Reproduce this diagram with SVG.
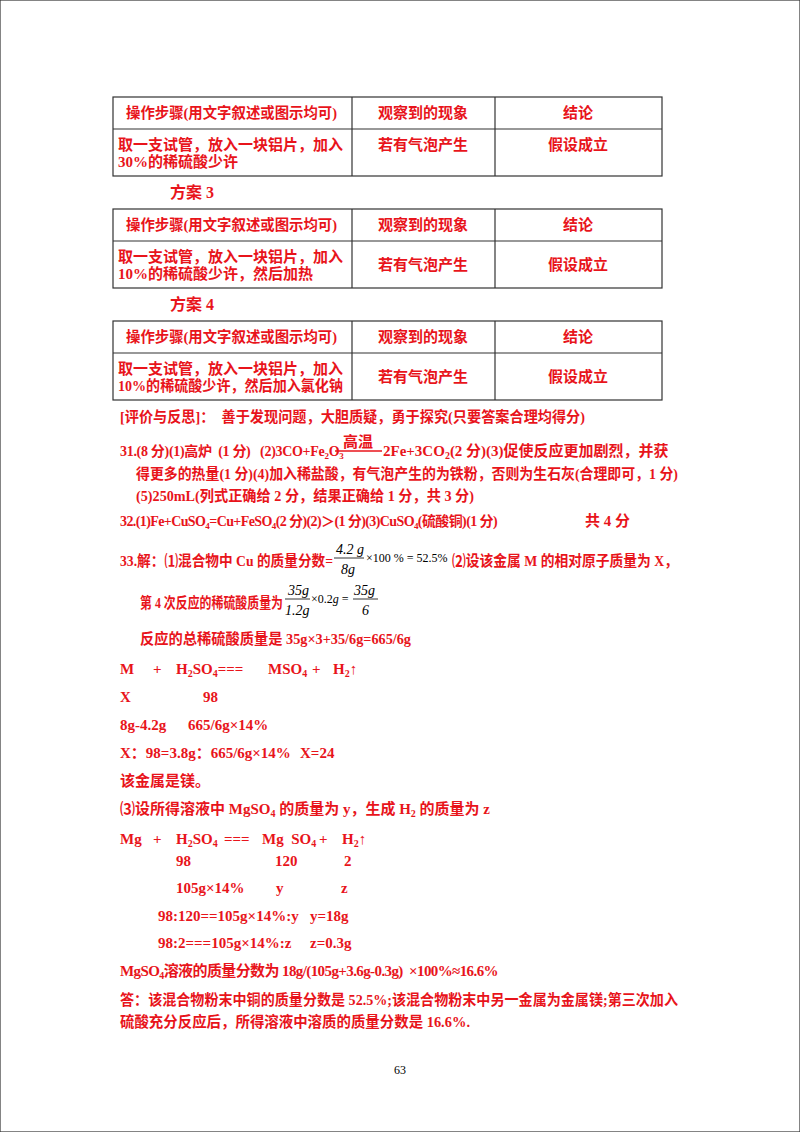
<svg xmlns="http://www.w3.org/2000/svg" width="800" height="1132" viewBox="0 0 800 1132" xml:space="preserve">
<style>
text{font-family:"Liberation Serif","Noto Sans CJK SC",serif;font-size:15px;font-weight:bold;fill:#e8141b;white-space:pre}
.c{text-anchor:middle}
.k{fill:#000;font-weight:normal}
.m{fill:#000;font-weight:normal;font-style:italic;font-family:"Liberation Serif",serif;font-size:14px}
.n{fill:#000;font-weight:normal;font-family:"Liberation Serif",serif;font-size:12px}
line,rect{stroke:#333;stroke-width:1.2;fill:none}
</style>
<rect width="800" height="1132" fill="#fff" stroke="none"/>
<g id="table1">
<rect x="113" y="97" width="549" height="79"/>
<line x1="113" y1="129" x2="662" y2="129"/><line x1="352" y1="97" x2="352" y2="176"/><line x1="495" y1="97" x2="495" y2="176"/>
<text x="126" y="118" textLength="211" lengthAdjust="spacingAndGlyphs">操作步骤(用文字叙述或图示均可)</text><text x="423" y="118" class="c">观察到的现象</text><text x="578" y="118" class="c">结论</text>
<text x="118" y="150" textLength="225" lengthAdjust="spacingAndGlyphs">取一支试管，放入一块铝片，加入</text><text x="118" y="167">30%的稀硫酸少许</text>
<text x="423" y="150" class="c">若有气泡产生</text><text x="578" y="150" class="c">假设成立</text>
</g>
<text x="170" y="198" style="font-size:16px">方案 3</text>
<g id="table2">
<rect x="113" y="209" width="549" height="79"/>
<line x1="113" y1="241" x2="662" y2="241"/><line x1="352" y1="209" x2="352" y2="288"/><line x1="495" y1="209" x2="495" y2="288"/>
<text x="126" y="230" textLength="211" lengthAdjust="spacingAndGlyphs">操作步骤(用文字叙述或图示均可)</text><text x="423" y="230" class="c">观察到的现象</text><text x="578" y="230" class="c">结论</text>
<text x="118" y="262" textLength="225" lengthAdjust="spacingAndGlyphs">取一支试管，放入一块铝片，加入</text><text x="118" y="279">10%的稀硫酸少许，然后加热</text>
<text x="423" y="270" class="c">若有气泡产生</text><text x="578" y="270" class="c">假设成立</text>
</g>
<text x="170" y="310" style="font-size:16px">方案 4</text>
<g id="table3">
<rect x="113" y="321" width="549" height="79"/>
<line x1="113" y1="353" x2="662" y2="353"/><line x1="352" y1="321" x2="352" y2="400"/><line x1="495" y1="321" x2="495" y2="400"/>
<text x="126" y="342" textLength="211" lengthAdjust="spacingAndGlyphs">操作步骤(用文字叙述或图示均可)</text><text x="423" y="342" class="c">观察到的现象</text><text x="578" y="342" class="c">结论</text>
<text x="118" y="374" textLength="225" lengthAdjust="spacingAndGlyphs">取一支试管，放入一块铝片，加入</text><text x="118" y="391" textLength="225" lengthAdjust="spacingAndGlyphs">10%的稀硫酸少许，然后加入氯化钠</text>
<text x="423" y="382" class="c">若有气泡产生</text><text x="578" y="382" class="c">假设成立</text>
</g>
<text x="120" y="422" textLength="465" lengthAdjust="spacingAndGlyphs">[评价与反思]：  善于发现问题，大胆质疑，勇于探究(只要答案合理均得分)</text>
<text x="120" y="456" style="font-size:14px;letter-spacing:-0.3px">31.(8 分)(1)高炉  (1 分)   (2)3CO+Fe<tspan font-size="9" dy="3">2</tspan><tspan dy="-3">O</tspan><tspan font-size="9" dy="3">3</tspan></text>
<line x1="335" y1="451" x2="382" y2="451" style="stroke:#e8141b;stroke-width:1.5"/>
<text x="358" y="447" class="c">高温</text>
<text x="383" y="456">2Fe+3CO<tspan font-size="10" dy="3">2</tspan><tspan dy="-3">(2 分)(3)促使反应更加剧烈，并获</tspan></text>
<text x="136" y="479" textLength="542" lengthAdjust="spacingAndGlyphs">得更多的热量(1 分)(4)加入稀盐酸，有气泡产生的为铁粉，否则为生石灰(合理即可，1 分)</text>
<text x="136" y="501" textLength="338" lengthAdjust="spacingAndGlyphs">(5)250mL(列式正确给 2 分，结果正确给 1 分，共 3 分)</text>
<text x="120" y="526" style="font-size:14px;letter-spacing:-0.6px">32.(1)Fe+CuSO<tspan font-size="9" dy="3">4</tspan><tspan dy="-3">=Cu+FeSO</tspan><tspan font-size="9" dy="3">4</tspan><tspan dy="-3">(2 分)(2)＞(1 分)(3)CuSO</tspan><tspan font-size="9" dy="3">4</tspan><tspan dy="-3">(硫酸铜)(1 分)</tspan></text>
<text x="585" y="526">共 4 分</text>
<text x="120" y="566" textLength="213" lengthAdjust="spacingAndGlyphs">33.解：⑴混合物中 Cu 的质量分数=</text>
<text x="336" y="554" class="m">4.2 g</text>
<line x1="334" y1="558" x2="364" y2="558" style="stroke:#000;stroke-width:0.8"/>
<text x="341" y="574" class="m">8g</text>
<text x="366" y="562" class="n">×100 % = 52.5%</text>
<text x="452" y="566" textLength="226" lengthAdjust="spacingAndGlyphs">⑵设该金属 M 的相对原子质量为 X，</text>
<text x="140" y="608" textLength="143" lengthAdjust="spacingAndGlyphs">第 4 次反应的稀硫酸质量为</text>
<text x="288" y="595" class="m">35g</text>
<line x1="285" y1="599" x2="310" y2="599" style="stroke:#000;stroke-width:0.8"/>
<text x="285" y="615" class="m">1.2g</text>
<text x="311" y="603" class="n">×0.2<tspan font-style="italic">g</tspan> =</text>
<text x="354" y="595" class="m">35g</text>
<line x1="353" y1="599" x2="378" y2="599" style="stroke:#000;stroke-width:0.8"/>
<text x="362" y="615" class="m">6</text>
<text x="140" y="644" textLength="271" lengthAdjust="spacingAndGlyphs">反应的总稀硫酸质量是 35g×3+35/6g=665/6g</text>
<text x="120" y="674">M</text><text x="153" y="674">+</text><text x="176" y="674">H<tspan font-size="10" dy="3">2</tspan><tspan dy="-3">SO</tspan><tspan font-size="10" dy="3">4</tspan><tspan dy="-3">===</tspan></text><text x="268" y="674">MSO<tspan font-size="10" dy="3">4</tspan></text><text x="312" y="674">+</text><text x="333" y="674">H<tspan font-size="10" dy="3">2</tspan><tspan dy="-3">↑</tspan></text>
<text x="120" y="702">X</text><text x="203" y="702">98</text>
<text x="120" y="730">8g-4.2g</text><text x="188" y="730">665/6g×14%</text>
<text x="120" y="758">X：98=3.8g：665/6g×14%</text><text x="300" y="758">X=24</text>
<text x="120" y="786">该金属是镁。</text>
<text x="120" y="814">⑶设所得溶液中 MgSO<tspan font-size="10" dy="3">4</tspan><tspan dy="-3"> 的质量为 y，生成 H</tspan><tspan font-size="10" dy="3">2</tspan><tspan dy="-3"> 的质量为 z</tspan></text>
<text x="120" y="844">Mg</text><text x="153" y="844">+</text><text x="176" y="844">H<tspan font-size="10" dy="3">2</tspan><tspan dy="-3">SO</tspan><tspan font-size="10" dy="3">4</tspan></text><text x="224" y="844">===</text><text x="262" y="844">Mg  SO<tspan font-size="10" dy="3">4</tspan></text><text x="319" y="844">+</text><text x="342" y="844">H<tspan font-size="10" dy="3">2</tspan><tspan dy="-3">↑</tspan></text>
<text x="176" y="866">98</text><text x="275" y="866">120</text><text x="344" y="866">2</text>
<text x="176" y="893">105g×14%</text><text x="276" y="893">y</text><text x="341" y="893">z</text>
<text x="158" y="921">98:120==105g×14%:y</text><text x="310" y="921">y=18g</text>
<text x="158" y="948">98:2===105g×14%:z</text><text x="310" y="948">z=0.3g</text>
<text x="120" y="976" style="letter-spacing:-0.6px">MgSO<tspan font-size="10" dy="3">4</tspan><tspan dy="-3">溶液的质量分数为 18g/(105g+3.6g-0.3g)  ×100%≈16.6%</tspan></text>
<text x="120" y="1005" textLength="558" lengthAdjust="spacingAndGlyphs">答：该混合物粉末中铜的质量分数是 52.5%;该混合物粉末中另一金属为金属镁;第三次加入</text>
<text x="120" y="1027" textLength="350" lengthAdjust="spacingAndGlyphs">硫酸充分反应后，所得溶液中溶质的质量分数是 16.6%.</text>
<text x="400" y="1074" class="c k" style="font-size:12px">63</text>
</svg>
